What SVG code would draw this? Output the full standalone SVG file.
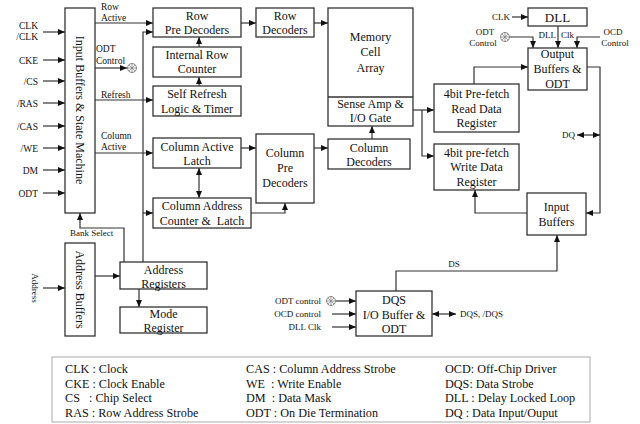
<svg xmlns="http://www.w3.org/2000/svg" width="640" height="424" viewBox="0 0 640 424" font-family="'Liberation Serif', Tinos, 'DejaVu Serif', serif">
<style>
text{font-family:'Liberation Serif',Tinos,'DejaVu Serif',serif;fill:#111}
.b{font-size:12px;text-anchor:middle}
.s{font-size:9.5px}
.r{text-anchor:end}
.t{font-size:9px}
.lg{font-size:12.2px;white-space:pre}
rect{fill:#fff;stroke:#333;stroke-width:1.3}
.c path,.c line,.c polyline{fill:none;stroke:#333;stroke-width:1.2}
.a{marker-end:url(#ah)}
.bi{marker-start:url(#ah);marker-end:url(#ah)}
.sym circle{fill:#fff;stroke:#777;stroke-width:0.9}
.sym path{stroke:#777;stroke-width:0.7;fill:none}
</style>
<defs>
<marker id="ah" markerWidth="7" markerHeight="6" refX="7" refY="3" orient="auto-start-reverse" markerUnits="userSpaceOnUse">
<path d="M0,0 L7,3 L0,6 z" fill="#111"/>
</marker>
<g id="odtsym" class="sym"><circle cx="0" cy="0" r="4.5"/><path d="M-4.5,0H4.5M0,-4.5V4.5M-3.2,-3.2L3.2,3.2M-3.2,3.2L3.2,-3.2"/></g>
</defs>

<g id="connectors" class="c">
<line class="a" x1="43" y1="32" x2="65" y2="32"/>
<line class="a" x1="43" y1="60" x2="65" y2="60"/>
<line class="a" x1="43" y1="81" x2="65" y2="81"/>
<line class="a" x1="43" y1="103" x2="65" y2="103"/>
<line class="a" x1="43" y1="126" x2="65" y2="126"/>
<line class="a" x1="43" y1="148" x2="65" y2="148"/>
<line class="a" x1="43" y1="170" x2="65" y2="170"/>
<line class="a" x1="43" y1="193" x2="65" y2="193"/>
<line class="a" x1="43" y1="288" x2="65" y2="288"/>
<line class="a" x1="95" y1="23" x2="153" y2="23"/>
<line class="a" x1="95" y1="68" x2="127" y2="68"/>
<line class="a" x1="95" y1="100" x2="153" y2="100"/>
<line class="a" x1="95" y1="153" x2="153" y2="153"/>
<polyline class="a" points="143,262 143,32 153,32"/>
<line class="a" x1="143" y1="213" x2="153" y2="213"/>
<polyline class="a" points="124,262 124,228 80,228 80,213"/>
<line class="a" x1="95" y1="276" x2="120" y2="276"/>
<line class="a" x1="139" y1="289" x2="139" y2="307"/>
<line class="a" x1="199" y1="86" x2="199" y2="77"/>
<line class="a" x1="199" y1="47" x2="199" y2="37"/>
<line class="bi" x1="199" y1="168" x2="199" y2="198"/>
<line class="a" x1="241" y1="23" x2="256" y2="23"/>
<line class="a" x1="314" y1="23" x2="328" y2="23"/>
<line class="a" x1="241" y1="148" x2="256" y2="148"/>
<polyline class="a" points="251,213 285,213 285,203"/>
<line class="a" x1="314" y1="148" x2="328" y2="148"/>
<line class="a" x1="372" y1="139" x2="372" y2="126"/>
<line class="a" x1="413" y1="110" x2="434" y2="110"/>
<polyline class="a" points="422,110 422,156 434,156"/>
<polyline class="a" points="474,84 474,67 528,67"/>
<polyline class="a" points="587,67 600,67 600,213 586,213"/>
<line class="bi" x1="577" y1="135" x2="600" y2="135"/>
<polyline class="a" points="527,213 475,213 475,190"/>
<polyline class="a" points="396,291 396,271 557,271 557,235"/>
<line class="a" x1="512" y1="17" x2="528" y2="17"/>
<line class="a" x1="558" y1="26" x2="558" y2="48"/>
<polyline class="a" points="510,37 533,37 533,48"/>
<polyline class="a" points="600,37 577,37 577,48"/>
<line class="a" x1="336" y1="301" x2="356" y2="301"/>
<line class="a" x1="332" y1="314" x2="356" y2="314"/>
<line class="a" x1="332" y1="327" x2="356" y2="327"/>
<line class="bi" x1="432" y1="314" x2="456" y2="314"/>
</g>

<use href="#odtsym" x="132" y="68"/>
<use href="#odtsym" x="505" y="37"/>
<use href="#odtsym" x="331" y="301"/>

<g id="input-buffers"><rect x="65" y="8" width="30" height="205"/>
<text class="b" transform="translate(80,110) rotate(90)" dy="4">Input Buffers &amp; State Machine</text></g>
<g id="address-buffers"><rect x="65" y="243" width="30" height="93"/>
<text class="b" transform="translate(80,289.5) rotate(90)" dy="4">Address Buffers</text></g>
<g id="row-pre-decoders"><rect x="153" y="8" width="88" height="29"/>
<text class="b" x="197" y="19.5">Row</text><text class="b" x="197" y="34">Pre Decoders</text></g>
<g id="internal-row-counter"><rect x="153" y="47" width="88" height="30"/>
<text class="b" x="197" y="58.5">Internal Row</text><text class="b" x="197" y="73">Counter</text></g>
<g id="self-refresh"><rect x="153" y="86" width="88" height="30"/>
<text class="b" x="197" y="97.5">Self Refresh</text><text class="b" x="197" y="112.5">Logic &amp; Timer</text></g>
<g id="row-decoders"><rect x="256" y="8" width="58" height="29"/>
<text class="b" x="285" y="19.5">Row</text><text class="b" x="285" y="34">Decoders</text></g>
<g id="column-active-latch"><rect x="153" y="138" width="88" height="30"/>
<text class="b" x="197" y="150.5">Column Active</text><text class="b" x="197" y="164.5">Latch</text></g>
<g id="column-address-counter"><rect x="153" y="198" width="98" height="30"/>
<text class="b" x="202" y="209.5">Column Address</text><text class="b" x="202" y="224.5" style="white-space:pre">Counter &amp;  Latch</text></g>
<g id="column-pre-decoders"><rect x="256" y="134" width="58" height="69"/>
<text class="b" x="285" y="157">Column</text><text class="b" x="285" y="172">Pre</text><text class="b" x="285" y="187">Decoders</text></g>
<g id="address-registers"><rect x="120" y="262" width="87" height="27"/>
<text class="b" x="163.5" y="273.5">Address</text><text class="b" x="163.5" y="287.5">Registers</text></g>
<g id="mode-register"><rect x="120" y="307" width="87" height="26"/>
<text class="b" x="163.5" y="317.5">Mode</text><text class="b" x="163.5" y="331.5">Register</text></g>
<g id="memory-cell-array"><rect x="328" y="8" width="85" height="118"/>
<line x1="328" y1="97" x2="413" y2="97" stroke="#333" stroke-width="1.3"/>
<text class="b" x="370.5" y="41">Memory</text><text class="b" x="370.5" y="56">Cell</text><text class="b" x="370.5" y="72">Array</text>
<text class="b" x="370.5" y="108">Sense Amp &amp;</text><text class="b" x="370.5" y="122">I/O Gate</text></g>
<g id="column-decoders"><rect x="328" y="139" width="82" height="30"/>
<text class="b" x="369" y="151.5">Column</text><text class="b" x="369" y="166">Decoders</text></g>
<g id="read-data-register"><rect x="434" y="84" width="85" height="48"/>
<text class="b" x="476.5" y="97.5">4bit Pre-fetch</text><text class="b" x="476.5" y="112.5">Read Data</text><text class="b" x="476.5" y="127">Register</text></g>
<g id="write-data-register"><rect x="434" y="144" width="85" height="46"/>
<text class="b" x="476.5" y="156.5">4bit pre-fetch</text><text class="b" x="476.5" y="170.5">Write Data</text><text class="b" x="476.5" y="185.5">Register</text></g>
<g id="dll"><rect x="528" y="8" width="59" height="18"/>
<text class="b" x="557.5" y="22" style="font-size:13px">DLL</text></g>
<g id="output-buffers"><rect x="528" y="48" width="59" height="42"/>
<text class="b" x="557.5" y="57.5">Output</text><text class="b" x="557.5" y="73">Buffers &amp;</text><text class="b" x="557.5" y="87.5">ODT</text></g>
<g id="input-buffers-right"><rect x="527" y="193" width="59" height="42"/>
<text class="b" x="556.5" y="210.5">Input</text><text class="b" x="556.5" y="225.5">Buffers</text></g>
<g id="dqs-buffer"><rect x="356" y="291" width="76" height="45"/>
<text class="b" x="394" y="303.5">DQS</text><text class="b" x="394" y="318.5">I/O Buffer &amp;</text><text class="b" x="394" y="332.5">ODT</text></g>

<g id="labels">
<text class="s r" x="38" y="28.5">CLK</text><text class="s r" x="38" y="39.5">/CLK</text>
<text class="s r" x="38" y="63.5">CKE</text><text class="s r" x="38" y="84.5">/CS</text>
<text class="s r" x="38" y="106.5">/RAS</text><text class="s r" x="38" y="129.5">/CAS</text>
<text class="s r" x="38" y="151.5">/WE</text><text class="s r" x="38" y="173.5">DM</text>
<text class="s r" x="38" y="196.5">ODT</text>
<text class="t" transform="translate(35,288) rotate(90)" text-anchor="middle" dy="3">Address</text>
<text class="s" x="101" y="10">Row</text><text class="s" x="101" y="21">Active</text>
<text class="s" x="96" y="52">ODT</text><text class="s" x="96" y="64">Control</text>
<text class="s" x="101" y="98">Refresh</text>
<text class="s" x="101" y="139">Column</text><text class="s" x="101" y="150">Active</text>
<text class="t" x="70" y="236">Bank Select</text>
<text class="t" x="454" y="267" text-anchor="middle">DS</text>
<text class="t" x="460" y="317">DQS, /DQS</text>
<text class="t r" x="321" y="304">ODT control</text>
<text class="t r" x="321" y="317">OCD control</text>
<text class="t r" x="321" y="330">DLL Clk</text>
<text class="t r" x="510" y="20">CLK</text>
<text class="t" x="485" y="35" text-anchor="middle">ODT</text><text class="t" x="483" y="46" text-anchor="middle">Control</text>
<text class="t" x="613" y="35" text-anchor="middle">OCD</text><text class="t" x="615" y="46" text-anchor="middle">Control</text>
<text class="t r" x="556" y="38">DLL</text><text class="t" x="561" y="38">Clk</text>
<text class="t r" x="575" y="138">DQ</text>
</g>

<g id="legend">
<rect x="52" y="357" width="538" height="65" style="stroke:#aaa;stroke-width:1"/>
<text class="lg" x="65" y="372.5">CLK : Clock</text>
<text class="lg" x="65" y="387.5">CKE : Clock Enable</text>
<text class="lg" x="65" y="402">CS   : Chip Select</text>
<text class="lg" x="65" y="417">RAS : Row Address Strobe</text>
<text class="lg" x="246" y="372.5">CAS : Column Address Strobe</text>
<text class="lg" x="246" y="387.5">WE  : Write Enable</text>
<text class="lg" x="246" y="402">DM  : Data Mask</text>
<text class="lg" x="246" y="417">ODT : On Die Termination</text>
<text class="lg" x="445" y="372.5">OCD: Off-Chip Driver</text>
<text class="lg" x="445" y="387.5">DQS: Data Strobe</text>
<text class="lg" x="445" y="402">DLL : Delay Locked Loop</text>
<text class="lg" x="445" y="417">DQ : Data Input/Ouput</text>
</g>
</svg>
